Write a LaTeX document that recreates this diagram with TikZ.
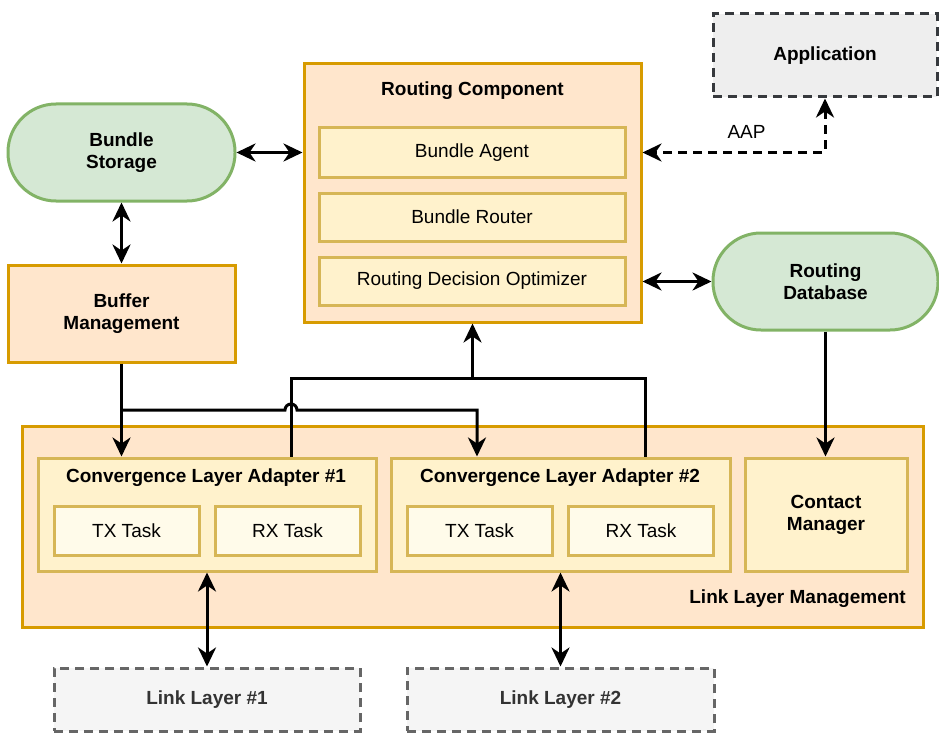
\documentclass[tikz,border=0pt]{standalone}
\usepackage{fontspec}
\setmainfont{Liberation Sans}
\usetikzlibrary{arrows.meta}

\definecolor{orangefill}{HTML}{FFE6CC}
\definecolor{orangeline}{HTML}{D79B00}
\definecolor{yellowfill}{HTML}{FFF2CC}
\definecolor{yellowline}{HTML}{D6B656}
\definecolor{taskfill}{HTML}{FFFBEA}
\definecolor{greenfill}{HTML}{D5E8D4}
\definecolor{greenline}{HTML}{82B366}
\definecolor{appfill}{HTML}{EEEEEE}
\definecolor{appline}{HTML}{36393D}
\definecolor{linkfill}{HTML}{F5F5F5}
\definecolor{linkline}{HTML}{666666}
\definecolor{linktext}{HTML}{333333}

\tikzset{
  every node/.style={font=\fontsize{19}{22}\selectfont, align=center, inner sep=0pt},
  bold/.style={font=\fontsize{19}{22}\selectfont\bfseries},
  orangebox/.style={draw=orangeline, fill=orangefill, line width=3pt},
  yellowbox/.style={draw=yellowline, fill=yellowfill, line width=3pt},
  taskbox/.style={draw=yellowline, fill=taskfill, line width=3pt,
    minimum width=145pt, minimum height=49pt},
  storebox/.style={draw=greenline, fill=greenfill, line width=3pt,
    rounded corners=48pt, bold},
  extbox/.style={draw=linkline, fill=linkfill, text=linktext, line width=3pt,
    dash pattern=on 9pt off 6pt, bold},
  conn/.style={line width=3pt, black},
  >={Stealth[length=19pt,width=18pt,inset=6pt]}
}

\begin{document}
\begin{tikzpicture}[x=1pt, y=-1pt]
  \useasboundingbox (0,0) rectangle (939,733);

  % Routing component and its parts
  \node[orangebox, minimum width=337pt, minimum height=258pt] (rc) at (472.5,193) {};
  \node[bold] (rctitle) at (472.5,91) {Routing Component};
  \node[yellowbox, minimum width=306pt, minimum height=49pt] (agent) at (472,152.5) {Bundle Agent};
  \node[yellowbox, minimum width=306pt, minimum height=48pt] (router) at (472,217) {Bundle Router};
  \node[yellowbox, minimum width=306pt, minimum height=48pt] (rdo) at (472,281) {Routing Decision Optimizer};

  % Application
  \node[extbox, draw=appline, fill=appfill, text=black, minimum width=224pt, minimum height=83pt]
    (app) at (825,55.5) {Application};

  % Storage side
  \node[storebox, minimum width=227pt, minimum height=97pt] (storage) at (121.5,152.5) {Bundle\\Storage};
  \node[orangebox, bold, minimum width=227pt, minimum height=97pt] (buffer) at (121.5,313.5) {Buffer\\Management};
  \node[storebox, minimum width=225pt, minimum height=97pt] (rdb) at (825.5,281.5) {Routing\\Database};

  % Link layer management
  \node[orangebox, minimum width=901pt, minimum height=201pt] (llm) at (472.5,526.5) {};
  \node[bold, anchor=east] (llmtitle) at (906,599) {Link Layer Management};

  \node[yellowbox, minimum width=338pt, minimum height=113pt] (cla1) at (207,514.5) {};
  \node[bold] (cla1title) at (206,478) {Convergence Layer Adapter \#1};
  \node[taskbox] (tx1) at (126.5,530.5) {TX Task};
  \node[taskbox] (rx1) at (287.5,530.5) {RX Task};

  \node[yellowbox, minimum width=339pt, minimum height=113pt] (cla2) at (560.5,514.5) {};
  \node[bold] (cla2title) at (560,478) {Convergence Layer Adapter \#2};
  \node[taskbox] (tx2) at (479.5,530.5) {TX Task};
  \node[taskbox] (rx2) at (641,530.5) {RX Task};

  \node[yellowbox, bold, minimum width=162pt, minimum height=113pt] (cm) at (826,514.5) {Contact\\Manager};

  % External link layers
  \node[extbox, minimum width=306pt, minimum height=63pt] (ll1) at (207,699.5) {Link Layer \#1};
  \node[extbox, minimum width=307pt, minimum height=63pt] (ll2) at (560.5,699.5) {Link Layer \#2};

  % Helper points for the bus lines
  \coordinate (bsplit) at (buffer.south |- 0,410);
  \coordinate (jump) at (291,410);
  \coordinate (cla2in) at ([xshift=-83.5pt]cla2.north);
  \coordinate (cla1up) at ([xshift=84pt]cla1.north);
  \coordinate (cla2up) at ([xshift=84.5pt]cla2.north);
  \coordinate (merge) at (rc.south |- 0,378);

  % Connectors
  \draw[conn, <->] (storage.east) -- (storage.east -| rc.west);
  \draw[conn, <->] (storage.south) -- (buffer.north);
  \draw[conn, <->, dash pattern=on 9pt off 6pt] (app.south) -- (app.south |- agent.east)
    -- node[pos=0.43, above=12pt, font=\fontsize{19}{22}\selectfont] (aap) {AAP} (agent.east -| rc.east);
  \draw[conn, <->] (rdb.west) -- (rdb.west -| rc.east);
  \draw[conn, ->] (rdb.south) -- (rdb.south |- cm.north);

  \draw[conn, ->] (buffer.south) -- (buffer.south |- cla1.north);
  \draw[conn, ->] (bsplit) -- ([xshift=-6pt]jump) arc[start angle=180, end angle=0, radius=6pt]
    -- (cla2in |- bsplit) -- (cla2in);
  \draw[conn] (cla1up) -- (cla1up |- merge) -- (cla2up |- merge) -- (cla2up);
  \draw[conn, ->] (merge) -- (rc.south);

  \draw[conn, <->] (cla1.south) -- (ll1.north);
  \draw[conn, <->] (cla2.south) -- (ll2.north);
\end{tikzpicture}
\end{document}
